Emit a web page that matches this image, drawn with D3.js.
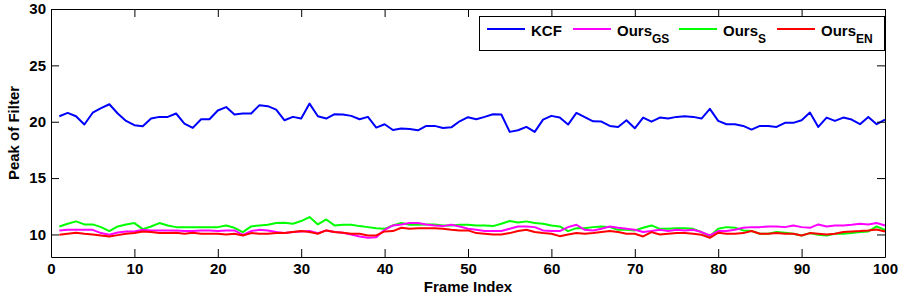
<!DOCTYPE html>
<html>
<head>
<meta charset="utf-8">
<script src="https://d3js.org/d3.v7.min.js"></script>
<style>
  body { margin: 0; background: #fff; }
  text { font-family: "Liberation Sans", Arial, sans-serif; font-weight: bold; fill: #000; }
</style>
</head>
<body>
<svg id="chart" width="900" height="300"></svg>
<script>
// frame indices 1..100
var frames = d3.range(1, 101)

var kcf = [
  20.49, 20.78, 20.49, 19.75, 20.80, 21.20, 21.55, 20.73, 20.07, 19.69,
  19.60, 20.28, 20.43, 20.43, 20.73, 19.84, 19.45, 20.22, 20.22, 21.00,
  21.30, 20.64, 20.73, 20.73, 21.47, 21.38, 21.08, 20.13, 20.43, 20.28,
  21.61, 20.49, 20.28, 20.67, 20.64, 20.52, 20.22, 20.43, 19.48, 19.78,
  19.27, 19.39, 19.36, 19.24, 19.63, 19.63, 19.45, 19.50, 20.04, 20.40,
  20.22, 20.43, 20.67, 20.64, 19.10, 19.24, 19.54, 19.10, 20.19, 20.52,
  20.37, 19.75, 20.78, 20.40, 20.04, 20.01, 19.63, 19.54, 20.13, 19.42,
  20.37, 20.00, 20.37, 20.28, 20.43, 20.49, 20.43, 20.28, 21.14, 20.07,
  19.78, 19.78, 19.63, 19.30, 19.63, 19.63, 19.54, 19.90, 19.90, 20.13,
  20.81, 19.54, 20.37, 20.07, 20.37, 20.19, 19.78, 20.43, 19.78, 20.19
]

var oursGS = [
  10.36, 10.41, 10.41, 10.41, 10.41, 10.12, 9.97, 10.18, 10.27, 10.27,
  10.41, 10.36, 10.36, 10.36, 10.36, 10.30, 10.30, 10.36, 10.36, 10.30,
  10.36, 10.36, 9.97, 10.30, 10.41, 10.36, 10.21, 10.12, 10.21, 10.27,
  10.30, 10.12, 10.36, 10.21, 10.15, 10.00, 9.82, 9.70, 9.76, 10.41,
  10.80, 10.89, 11.01, 11.01, 10.89, 10.80, 10.74, 10.86, 10.71, 10.50,
  10.41, 10.30, 10.30, 10.30, 10.50, 10.71, 10.71, 10.65, 10.36, 10.30,
  10.30, 10.65, 10.86, 10.41, 10.36, 10.50, 10.71, 10.59, 10.50, 10.41,
  10.21, 10.30, 10.41, 10.30, 10.41, 10.36, 10.41, 10.21, 9.91, 10.30,
  10.30, 10.41, 10.59, 10.65, 10.65, 10.71, 10.71, 10.65, 10.80, 10.65,
  10.59, 10.89, 10.71, 10.80, 10.80, 10.86, 10.95, 10.89, 11.01, 10.80
]

var oursS = [
  10.71, 10.95, 11.16, 10.89, 10.89, 10.65, 10.30, 10.71, 10.89, 11.01,
  10.47, 10.71, 11.01, 10.80, 10.65, 10.65, 10.65, 10.65, 10.65, 10.65,
  10.80, 10.59, 10.21, 10.71, 10.80, 10.86, 11.01, 11.04, 10.95, 11.19,
  11.54, 10.89, 11.33, 10.80, 10.86, 10.86, 10.74, 10.65, 10.56, 10.50,
  10.80, 11.01, 10.86, 10.86, 10.89, 10.89, 10.80, 10.80, 10.86, 10.86,
  10.80, 10.80, 10.74, 10.95, 11.19, 11.07, 11.16, 11.01, 10.95, 10.80,
  10.71, 10.30, 10.56, 10.56, 10.65, 10.71, 10.65, 10.41, 10.41, 10.36,
  10.59, 10.80, 10.50, 10.50, 10.56, 10.56, 10.50, 10.21, 9.85, 10.50,
  10.65, 10.59, 10.36, 10.30, 10.06, 10.06, 10.21, 10.15, 10.06, 9.91,
  10.12, 9.97, 9.91, 10.06, 10.06, 10.12, 10.21, 10.27, 10.71, 10.41
]

var oursEN = [
  9.97, 10.06, 10.15, 10.06, 10.00, 9.91, 9.82, 9.94, 10.06, 10.12,
  10.27, 10.21, 10.12, 10.12, 10.15, 10.06, 10.15, 10.06, 10.06, 10.06,
  10.00, 10.06, 9.91, 10.12, 10.06, 10.06, 10.12, 10.12, 10.21, 10.30,
  10.21, 10.06, 10.36, 10.21, 10.15, 10.06, 10.06, 9.91, 9.91, 10.27,
  10.30, 10.59, 10.50, 10.56, 10.56, 10.56, 10.50, 10.41, 10.36, 10.36,
  10.12, 10.06, 10.00, 10.00, 10.12, 10.30, 10.41, 10.21, 10.12, 10.06,
  9.85, 10.00, 10.12, 10.06, 10.12, 10.21, 10.30, 10.21, 10.06, 10.06,
  9.82, 10.21, 10.00, 10.06, 10.12, 10.12, 10.06, 9.97, 9.70, 10.15,
  10.06, 10.06, 10.12, 10.30, 10.06, 10.06, 10.12, 10.06, 10.06, 9.91,
  10.12, 10.06, 10.00, 10.06, 10.21, 10.27, 10.30, 10.36, 10.44, 10.27
]

var xTicks = [0, 10, 20, 30, 40, 50, 60, 70, 80, 90, 100]
var yTicks = [10, 15, 20, 25, 30]

// draw order (legend order is separate)
var series = [
  { name: "KCF", sub: "", color: "#0000ff", values: kcf },
  { name: "Ours", sub: "S", color: "#00ff00", values: oursS },
  { name: "Ours", sub: "GS", color: "#ff00ff", values: oursGS },
  { name: "Ours", sub: "EN", color: "#ff0000", values: oursEN }
]
var legendOrder = [0, 2, 1, 3]

var plotLeft = 51, plotRight = 885, plotTop = 9, plotBottom = 257
var tickLen = 8
var fontSize = 15

var svg = d3.select('#chart')

var x = d3.scaleLinear().domain([0, 100]).range([plotLeft, plotRight])
var y = d3.scaleLinear().domain([8, 30]).range([plotBottom, plotTop])

// lines
var line = d3.line()
  .x(function (d, i) { return x(frames[i]) })
  .y(function (d) { return y(d) })

svg.append('g').selectAll('path')
  .data(series)
  .enter().append('path')
    .attr('d', function (s) { return line(s.values) })
    .attr('fill', 'none')
    .attr('stroke', function (s) { return s.color })
    .attr('stroke-width', 2)
    .attr('stroke-linejoin', 'round')

// axes, ticks pointing inward, box on all sides
var xAxisB = d3.axisBottom(x).tickValues(xTicks).tickSizeInner(-tickLen).tickSizeOuter(0).tickPadding(6)
var xAxisT = d3.axisTop(x).tickValues(xTicks).tickSizeInner(-tickLen).tickSizeOuter(0).tickFormat('')
var yAxisL = d3.axisLeft(y).tickValues(yTicks).tickSizeInner(-tickLen).tickSizeOuter(0).tickPadding(5)
var yAxisR = d3.axisRight(y).tickValues(yTicks).tickSizeInner(-tickLen).tickSizeOuter(0).tickFormat('')

function styleAxis(g) {
  g.select('.domain').attr('stroke', '#000').attr('stroke-width', 1)
  g.selectAll('.tick line').attr('stroke', '#000')
  g.selectAll('.tick text').attr('font-size', fontSize).attr('font-family', null).attr('fill', '#000')
}

svg.append('g').attr('transform', 'translate(0,' + plotBottom + ')').call(xAxisB).call(styleAxis)
svg.append('g').attr('transform', 'translate(0,' + plotTop + ')').call(xAxisT).call(styleAxis)
svg.append('g').attr('transform', 'translate(' + plotLeft + ',0)').call(yAxisL).call(styleAxis)
svg.append('g').attr('transform', 'translate(' + plotRight + ',0)').call(yAxisR).call(styleAxis)

// axis titles
svg.append('text')
  .attr('x', (plotLeft + plotRight) / 2).attr('y', 292)
  .attr('text-anchor', 'middle').attr('font-size', fontSize)
  .text('Frame Index')

svg.append('text')
  .attr('transform', 'translate(19,' + (plotTop + plotBottom) / 2 + ') rotate(-90)')
  .attr('text-anchor', 'middle').attr('font-size', fontSize)
  .text('Peak of Filter')

// legend
var legend = svg.append('g')
legend.append('rect')
  .attr('x', 479.5).attr('y', 16.5).attr('width', 405).attr('height', 34)
  .attr('fill', '#fff').attr('stroke', '#000').attr('stroke-width', 1)

var legendX = [487, 573, 679, 777]
legendOrder.forEach(function (si, k) {
  var s = series[si]
  var lx = legendX[k]
  legend.append('line')
    .attr('x1', lx).attr('x2', lx + 38)
    .attr('y1', 29).attr('y2', 29)
    .attr('stroke', s.color).attr('stroke-width', 2)
  var t = legend.append('text')
    .attr('x', lx + 44).attr('y', 36)
    .attr('font-size', fontSize)
  t.append('tspan').text(s.name)
  if (s.sub) {
    t.append('tspan').attr('dy', 7).attr('font-size', 12).text(s.sub)
  }
})
</script>
</body>
</html>
